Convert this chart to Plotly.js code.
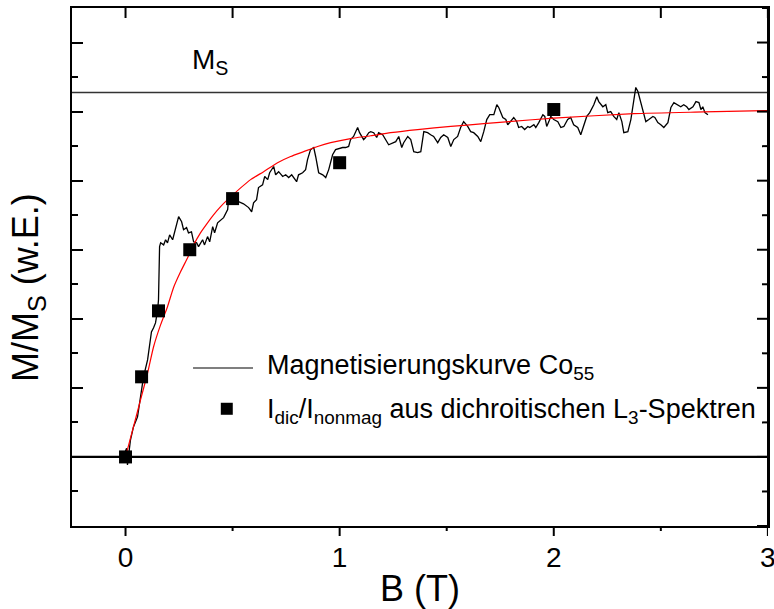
<!DOCTYPE html>
<html>
<head>
<meta charset="utf-8">
<script src="https://cdn.plot.ly/plotly-3.0.1.min.js"></script>
<style>html,body{margin:0;padding:0;background:#fff;overflow:hidden;width:774px;height:609px;}#chart{width:774px;height:609px;}</style>
</head>
<body>
<div id="chart"></div>
<script>
// Magnetisierungskurve Co55 (measured, noisy)
var curveB = [-0.005,0.005,0.009,0.023,0.037,0.056,0.070,0.084,0.103,0.112,0.121,0.131,0.140,0.150,0.154,0.159,0.164,0.178,0.187,0.196,0.206,0.220,0.234,0.248,0.262,0.271,0.285,0.294,0.308,0.318,0.332,0.341,0.360,0.369,0.383,0.393,0.407,0.416,0.430,0.444,0.458,0.477,0.481,0.505,0.528,0.551,0.575,0.589,0.598,0.612,0.621,0.640,0.650,0.664,0.673,0.692,0.701,0.715,0.734,0.748,0.762,0.776,0.785,0.799,0.808,0.827,0.841,0.850,0.864,0.879,0.888,0.902,0.921,0.935,0.949,0.967,0.981,0.995,1.014,1.028,1.042,1.051,1.065,1.084,1.093,1.112,1.121,1.136,1.145,1.159,1.173,1.182,1.201,1.229,1.248,1.262,1.276,1.290,1.299,1.318,1.332,1.346,1.364,1.379,1.393,1.411,1.425,1.439,1.458,1.472,1.486,1.505,1.519,1.533,1.551,1.565,1.579,1.598,1.612,1.626,1.645,1.659,1.673,1.687,1.701,1.720,1.734,1.743,1.762,1.776,1.785,1.799,1.813,1.827,1.836,1.850,1.864,1.879,1.888,1.907,1.916,1.930,1.949,1.958,1.967,1.977,1.986,2.000,2.019,2.033,2.047,2.065,2.079,2.093,2.112,2.126,2.140,2.154,2.168,2.187,2.201,2.210,2.229,2.243,2.252,2.266,2.280,2.294,2.304,2.318,2.327,2.346,2.360,2.374,2.383,2.393,2.407,2.421,2.430,2.444,2.463,2.472,2.486,2.500,2.514,2.533,2.547,2.561,2.579,2.593,2.607,2.621,2.631,2.650,2.664,2.678,2.687,2.696,2.706,2.720];
var curveM = [0.010,0.025,-0.023,0.049,0.087,0.116,0.174,0.232,0.281,0.330,0.362,0.374,0.388,0.426,0.455,0.609,0.620,0.614,0.629,0.620,0.643,0.629,0.667,0.696,0.681,0.658,0.664,0.649,0.652,0.623,0.620,0.609,0.629,0.614,0.638,0.623,0.667,0.649,0.678,0.687,0.693,0.716,0.745,0.739,0.739,0.733,0.722,0.710,0.736,0.745,0.780,0.788,0.812,0.803,0.823,0.841,0.817,0.826,0.812,0.817,0.809,0.817,0.809,0.797,0.817,0.823,0.832,0.861,0.890,0.896,0.870,0.823,0.817,0.809,0.832,0.875,0.890,0.893,0.896,0.896,0.899,0.919,0.928,0.954,0.939,0.919,0.925,0.939,0.942,0.939,0.925,0.939,0.933,0.904,0.910,0.913,0.928,0.896,0.910,0.928,0.919,0.884,0.881,0.884,0.942,0.939,0.933,0.928,0.910,0.925,0.933,0.925,0.899,0.919,0.928,0.954,0.971,0.957,0.942,0.939,0.928,0.913,0.942,0.977,0.991,0.991,1.020,1.012,0.983,0.977,0.962,0.971,0.983,0.971,0.954,0.957,0.948,0.957,0.954,0.962,0.954,0.968,0.991,0.986,0.957,0.971,0.986,0.977,0.971,0.954,0.957,0.977,0.983,0.962,0.954,0.933,0.962,0.986,0.997,1.020,1.043,1.029,1.014,1.020,0.997,1.000,0.986,0.977,0.997,0.971,0.939,0.942,0.977,1.029,1.070,1.058,1.026,0.986,0.971,0.977,0.986,0.983,0.968,0.962,0.954,0.968,1.012,1.026,1.020,1.014,1.020,1.014,1.006,1.014,1.029,1.026,1.006,1.014,0.997,0.991];

// fit curve (red)
var fitB = [0,0.037,0.070,0.103,0.131,0.164,0.196,0.224,0.257,0.290,0.318,0.350,0.383,0.411,0.444,0.477,0.584,0.645,0.710,0.771,0.832,0.897,0.958,1.051,1.145,1.238,1.364,1.519,1.673,1.790,2.000,2.374,2.700,3.000];
var fitM = [0,0.087,0.165,0.243,0.319,0.383,0.435,0.490,0.536,0.577,0.614,0.649,0.678,0.701,0.725,0.745,0.803,0.826,0.852,0.870,0.884,0.899,0.910,0.922,0.930,0.939,0.948,0.957,0.965,0.971,0.981,0.994,0.999,1.003];

// I_dic / I_nonmag from dichroic L3 spectra
var specB = [0,0.075,0.154,0.30,0.50,1.0,2.0];
var specM = [0,0.232,0.423,0.600,0.748,0.852,1.006];

// reference levels
var levelNames = ['M<sub>S</sub>','0'];
var levelValues = [1.055, 0];

var xTickVals = [0,1,2,3];
var xTickText = ['0','1','2','3'];

var FONT = 'Liberation Sans, Arial, Helvetica, sans-serif';
var XR = [-0.25, 3.0005];
var YR = [-0.2, 1.3];

var traces = [
  {x: curveB, y: curveM, type: 'scatter', mode: 'lines', line: {color: '#000', width: 1.3}, showlegend: false, hoverinfo: 'skip'},
  {x: fitB, y: fitM, type: 'scatter', mode: 'lines', line: {color: '#ff0000', width: 1.2, shape: 'spline', smoothing: 0.6}, showlegend: false, hoverinfo: 'skip'},
  {x: specB, y: specM, type: 'scatter', mode: 'markers', marker: {symbol: 'square', size: 13, color: '#000'}, showlegend: false, cliponaxis: false}
];

// frame: right spine + ticks on top/bottom/right (paper-offset shapes)
var PW = 696, PH = 518; // plot area size in px
var frameShapes = [
  {type: 'line', xref: 'paper', yref: 'paper', x0: 1, x1: 1, y0: 0, y1: 1, line: {color: '#000', width: 2}}
];
for (var i = 0; i <= 6; i++) {
  var v = i * 0.5;
  var major = (i % 2 === 0);
  frameShapes.push({type: 'line', xref: 'x', yref: 'paper', x0: v, x1: v, y0: 0, y1: -(major ? 10 : 5) / PH, line: {color: '#000', width: 2}});
  frameShapes.push({type: 'line', xref: 'x', yref: 'paper', x0: v, x1: v, y0: 1, y1: 1 - 10 / PH, line: {color: '#000', width: 2}});
}
for (var j = -2; j <= 13; j++) {
  var yv = j / 10;
  var maj = (j % 2 === 0);
  frameShapes.push({type: 'line', xref: 'paper', yref: 'y', x0: 1, x1: 1 - (maj ? 11 : 6) / PW, y0: yv, y1: yv, line: {color: '#000', width: 2}});
}

var layout = {
  width: 774, height: 609,
  margin: {l: 72, r: 6, t: 8, b: 83},
  paper_bgcolor: '#fff', plot_bgcolor: '#fff',
  font: {family: FONT, color: '#000', size: 26},
  showlegend: false,
  xaxis: {
    range: XR, tickmode: 'array', tickvals: xTickVals, ticktext: xTickText,
    ticks: '', showline: true, linewidth: 2, linecolor: '#000', mirror: true,
    showgrid: false, zeroline: false,
    tickfont: {size: 28, family: FONT},
    ticklabelstandoff: 5, ticklabeloverflow: 'allow',
    title: {text: 'B (T)', font: {size: 36, family: FONT}, standoff: 11}
  },
  yaxis: {
    range: YR, tickmode: 'linear', tick0: 0, dtick: 0.2,
    ticks: 'inside', ticklen: 11, tickwidth: 2, tickcolor: '#000',
    minor: {dtick: 0.1, ticklen: 6, tickwidth: 2, tickcolor: '#000', ticks: 'inside'},
    showticklabels: false,
    showline: true, linewidth: 2, linecolor: '#000', mirror: true,
    showgrid: false, zeroline: false
  },
  shapes: frameShapes.concat([
    {type: 'line', xref: 'paper', x0: 0, x1: 1, yref: 'y', y0: levelValues[0], y1: levelValues[0], line: {color: '#333', width: 1.5}, layer: 'below'},
    {type: 'line', xref: 'paper', x0: 0, x1: 1, yref: 'y', y0: levelValues[1], y1: levelValues[1], line: {color: '#000', width: 2.2}, layer: 'below'},
    // legend samples
    {type: 'line', xref: 'paper', yref: 'paper', x0: 0.1739, x1: 0.2601, y0: 0.3050, y1: 0.3050, line: {color: '#000', width: 1.2}},
    {type: 'rect', xref: 'paper', yref: 'paper', x0: 0.2138, x1: 0.2310, y0: 0.2147, y1: 0.2379, fillcolor: '#000', line: {width: 0}}
  ]),
  annotations: [
    {xref: 'paper', yref: 'paper', x: 0.1695, y: 0.8958, xanchor: 'left', yanchor: 'middle', showarrow: false, text: levelNames[0], font: {size: 28, family: FONT}},
    {xref: 'paper', yref: 'paper', x: -0.0632, y: 0.4595, xanchor: 'center', yanchor: 'middle', textangle: -90, showarrow: false, text: 'M/M<sub>S</sub> (w.E.)', font: {size: 36, family: FONT}},
    {xref: 'paper', yref: 'paper', x: 0.2773, y: 0.3069, xanchor: 'left', yanchor: 'middle', showarrow: false, text: 'Magnetisierungskurve Co<sub>55</sub>', font: {size: 27, family: FONT}},
    {xref: 'paper', yref: 'paper', x: 0.2773, y: 0.222, xanchor: 'left', yanchor: 'middle', showarrow: false, text: 'I<sub>dic</sub>/I<sub>nonmag</sub> aus dichroitischen L<sub>3</sub>-Spektren', font: {size: 27, family: FONT}}
  ]
};

Plotly.newPlot('chart', traces, layout, {staticPlot: true, displayModeBar: false});
</script>
</body>
</html>
